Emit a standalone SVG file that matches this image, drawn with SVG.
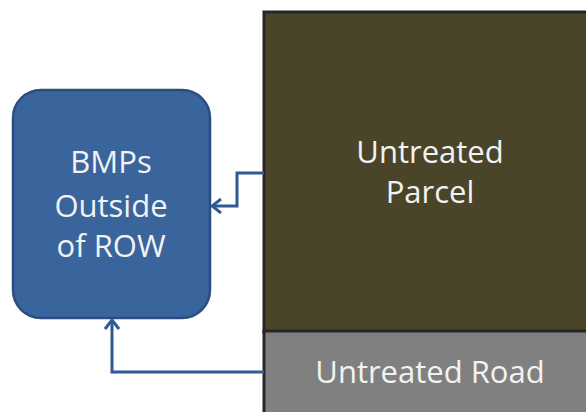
<svg xmlns="http://www.w3.org/2000/svg" width="586" height="412" viewBox="0 0 586 412">
<style>
text{font-family:"Open Sans","Liberation Sans",sans-serif;font-size:31px;text-anchor:middle}
.conn{fill:none;stroke:#2d5b92;stroke-width:3;stroke-linejoin:miter}
</style>
<defs>
<marker id="ah" viewBox="0 0 12 16" refX="11" refY="8" markerWidth="12" markerHeight="16" markerUnits="userSpaceOnUse" orient="auto">
<path d="M2,1 L11,8 L2,15" fill="none" stroke="#2d5b92" stroke-width="3"/>
</marker>
</defs>
<rect width="586" height="412" fill="#ffffff"/>
<g id="parcel">
<rect x="264" y="12" width="330" height="320" fill="#4a4529" stroke="#262626" stroke-width="3"/>
<text x="430" y="163" fill="#f2f2f2">Untreated</text>
<text x="430" y="203" fill="#f2f2f2">Parcel</text>
</g>
<g id="road">
<rect x="264" y="331" width="330" height="90" fill="#808080" stroke="#262626" stroke-width="3"/>
<text x="430" y="383" fill="#f2f2f2">Untreated Road</text>
</g>
<g id="bmps">
<rect x="13" y="90" width="197" height="228" rx="28" ry="28" fill="#3a649c" stroke="#2c4e7e" stroke-width="2.5"/>
<text x="111" y="173" fill="#f2f2f2">BMPs</text>
<text x="111" y="217" fill="#f2f2f2">Outside</text>
<text x="111" y="257" fill="#f2f2f2">of ROW</text>
</g>
<g id="connectors">
<path class="conn" d="M264,173 H237 V206 H212" marker-end="url(#ah)"/>
<path class="conn" d="M264,372 H112 V320" marker-end="url(#ah)"/>
</g>
</svg>
